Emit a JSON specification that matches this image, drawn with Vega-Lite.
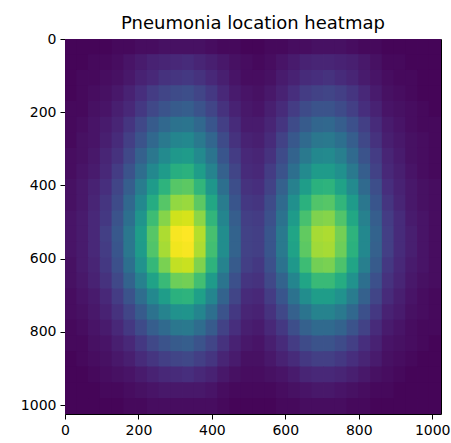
{
"$schema":"https://vega.github.io/schema/vega-lite/v6.json",
"autosize":"none",
"width":376,"height":375,
"padding":{"left":65,"top":39,"right":10,"bottom":29},
"title":{"text":"Pneumonia location heatmap","fontSize":18,"font":"DejaVu Sans","fontWeight":"normal","color":"black","anchor":"middle","baseline":"alphabetic","offset":8,"dy":23},
"config":{"view":{"stroke":null},"axis":{"grid":false,"domainColor":"black","domainWidth":1,"tickColor":"black","tickWidth":1,"tickSize":5,"labelFont":"DejaVu Sans","labelFontSize":14,"labelColor":"black","labelPadding":4,"labelFlush":false,"title":null,"zindex":1,"minExtent":0,"format":"d"}},
"data":{"values":[
{"x":16,"y":21,"v":0.02},{"x":48,"y":21,"v":0.02},{"x":80,"y":21,"v":0.02},{"x":112,"y":21,"v":0.02},{"x":144,"y":21,"v":0.03},{"x":176,"y":21,"v":0.03},{"x":208,"y":21,"v":0.04},{"x":240,"y":21,"v":0.04},{"x":272,"y":21,"v":0.05},{"x":304,"y":21,"v":0.05},{"x":336,"y":21,"v":0.05},{"x":368,"y":21,"v":0.05},{"x":400,"y":21,"v":0.04},{"x":432,"y":21,"v":0.03},{"x":464,"y":21,"v":0.03},{"x":496,"y":21,"v":0.02},{"x":528,"y":21,"v":0.02},{"x":560,"y":21,"v":0.03},{"x":592,"y":21,"v":0.03},{"x":624,"y":21,"v":0.04},{"x":656,"y":21,"v":0.04},{"x":688,"y":21,"v":0.05},{"x":720,"y":21,"v":0.05},{"x":752,"y":21,"v":0.05},{"x":784,"y":21,"v":0.04},{"x":816,"y":21,"v":0.03},{"x":848,"y":21,"v":0.03},{"x":880,"y":21,"v":0.02},{"x":912,"y":21,"v":0.02},{"x":944,"y":21,"v":0.02},{"x":976,"y":21,"v":0.02},{"x":1008,"y":21,"v":0.02},
{"x":16,"y":64,"v":0.02},{"x":48,"y":64,"v":0.02},{"x":80,"y":64,"v":0.03},{"x":112,"y":64,"v":0.03},{"x":144,"y":64,"v":0.04},{"x":176,"y":64,"v":0.06},{"x":208,"y":64,"v":0.08},{"x":240,"y":64,"v":0.1},{"x":272,"y":64,"v":0.11},{"x":304,"y":64,"v":0.12},{"x":336,"y":64,"v":0.13},{"x":368,"y":64,"v":0.11},{"x":400,"y":64,"v":0.09},{"x":432,"y":64,"v":0.07},{"x":464,"y":64,"v":0.05},{"x":496,"y":64,"v":0.04},{"x":528,"y":64,"v":0.03},{"x":560,"y":64,"v":0.04},{"x":592,"y":64,"v":0.06},{"x":624,"y":64,"v":0.08},{"x":656,"y":64,"v":0.1},{"x":688,"y":64,"v":0.11},{"x":720,"y":64,"v":0.11},{"x":752,"y":64,"v":0.1},{"x":784,"y":64,"v":0.09},{"x":816,"y":64,"v":0.07},{"x":848,"y":64,"v":0.05},{"x":880,"y":64,"v":0.03},{"x":912,"y":64,"v":0.03},{"x":944,"y":64,"v":0.02},{"x":976,"y":64,"v":0.02},{"x":1008,"y":64,"v":0.02},
{"x":16,"y":107,"v":0.02},{"x":48,"y":107,"v":0.03},{"x":80,"y":107,"v":0.03},{"x":112,"y":107,"v":0.04},{"x":144,"y":107,"v":0.05},{"x":176,"y":107,"v":0.07},{"x":208,"y":107,"v":0.1},{"x":240,"y":107,"v":0.12},{"x":272,"y":107,"v":0.15},{"x":304,"y":107,"v":0.16},{"x":336,"y":107,"v":0.17},{"x":368,"y":107,"v":0.15},{"x":400,"y":107,"v":0.12},{"x":432,"y":107,"v":0.09},{"x":464,"y":107,"v":0.06},{"x":496,"y":107,"v":0.04},{"x":528,"y":107,"v":0.04},{"x":560,"y":107,"v":0.05},{"x":592,"y":107,"v":0.08},{"x":624,"y":107,"v":0.1},{"x":656,"y":107,"v":0.13},{"x":688,"y":107,"v":0.14},{"x":720,"y":107,"v":0.15},{"x":752,"y":107,"v":0.13},{"x":784,"y":107,"v":0.11},{"x":816,"y":107,"v":0.08},{"x":848,"y":107,"v":0.06},{"x":880,"y":107,"v":0.04},{"x":912,"y":107,"v":0.03},{"x":944,"y":107,"v":0.03},{"x":976,"y":107,"v":0.02},{"x":1008,"y":107,"v":0.02},
{"x":16,"y":149,"v":0.02},{"x":48,"y":149,"v":0.03},{"x":80,"y":149,"v":0.04},{"x":112,"y":149,"v":0.05},{"x":144,"y":149,"v":0.07},{"x":176,"y":149,"v":0.1},{"x":208,"y":149,"v":0.14},{"x":240,"y":149,"v":0.18},{"x":272,"y":149,"v":0.21},{"x":304,"y":149,"v":0.23},{"x":336,"y":149,"v":0.24},{"x":368,"y":149,"v":0.21},{"x":400,"y":149,"v":0.17},{"x":432,"y":149,"v":0.12},{"x":464,"y":149,"v":0.08},{"x":496,"y":149,"v":0.06},{"x":528,"y":149,"v":0.05},{"x":560,"y":149,"v":0.07},{"x":592,"y":149,"v":0.1},{"x":624,"y":149,"v":0.14},{"x":656,"y":149,"v":0.18},{"x":688,"y":149,"v":0.2},{"x":720,"y":149,"v":0.21},{"x":752,"y":149,"v":0.19},{"x":784,"y":149,"v":0.16},{"x":816,"y":149,"v":0.12},{"x":848,"y":149,"v":0.08},{"x":880,"y":149,"v":0.05},{"x":912,"y":149,"v":0.04},{"x":944,"y":149,"v":0.03},{"x":976,"y":149,"v":0.02},{"x":1008,"y":149,"v":0.02},
{"x":16,"y":192,"v":0.03},{"x":48,"y":192,"v":0.03},{"x":80,"y":192,"v":0.05},{"x":112,"y":192,"v":0.06},{"x":144,"y":192,"v":0.09},{"x":176,"y":192,"v":0.12},{"x":208,"y":192,"v":0.17},{"x":240,"y":192,"v":0.22},{"x":272,"y":192,"v":0.26},{"x":304,"y":192,"v":0.29},{"x":336,"y":192,"v":0.3},{"x":368,"y":192,"v":0.26},{"x":400,"y":192,"v":0.21},{"x":432,"y":192,"v":0.15},{"x":464,"y":192,"v":0.1},{"x":496,"y":192,"v":0.07},{"x":528,"y":192,"v":0.06},{"x":560,"y":192,"v":0.09},{"x":592,"y":192,"v":0.13},{"x":624,"y":192,"v":0.18},{"x":656,"y":192,"v":0.23},{"x":688,"y":192,"v":0.26},{"x":720,"y":192,"v":0.26},{"x":752,"y":192,"v":0.23},{"x":784,"y":192,"v":0.19},{"x":816,"y":192,"v":0.14},{"x":848,"y":192,"v":0.1},{"x":880,"y":192,"v":0.06},{"x":912,"y":192,"v":0.05},{"x":944,"y":192,"v":0.04},{"x":976,"y":192,"v":0.03},{"x":1008,"y":192,"v":0.02},
{"x":16,"y":235,"v":0.03},{"x":48,"y":235,"v":0.04},{"x":80,"y":235,"v":0.06},{"x":112,"y":235,"v":0.08},{"x":144,"y":235,"v":0.11},{"x":176,"y":235,"v":0.16},{"x":208,"y":235,"v":0.22},{"x":240,"y":235,"v":0.29},{"x":272,"y":235,"v":0.34},{"x":304,"y":235,"v":0.38},{"x":336,"y":235,"v":0.39},{"x":368,"y":235,"v":0.34},{"x":400,"y":235,"v":0.27},{"x":432,"y":235,"v":0.19},{"x":464,"y":235,"v":0.13},{"x":496,"y":235,"v":0.08},{"x":528,"y":235,"v":0.08},{"x":560,"y":235,"v":0.11},{"x":592,"y":235,"v":0.16},{"x":624,"y":235,"v":0.23},{"x":656,"y":235,"v":0.29},{"x":688,"y":235,"v":0.33},{"x":720,"y":235,"v":0.34},{"x":752,"y":235,"v":0.3},{"x":784,"y":235,"v":0.25},{"x":816,"y":235,"v":0.19},{"x":848,"y":235,"v":0.13},{"x":880,"y":235,"v":0.08},{"x":912,"y":235,"v":0.06},{"x":944,"y":235,"v":0.04},{"x":976,"y":235,"v":0.03},{"x":1008,"y":235,"v":0.03},
{"x":16,"y":277,"v":0.03},{"x":48,"y":277,"v":0.05},{"x":80,"y":277,"v":0.06},{"x":112,"y":277,"v":0.09},{"x":144,"y":277,"v":0.13},{"x":176,"y":277,"v":0.19},{"x":208,"y":277,"v":0.26},{"x":240,"y":277,"v":0.34},{"x":272,"y":277,"v":0.41},{"x":304,"y":277,"v":0.46},{"x":336,"y":277,"v":0.47},{"x":368,"y":277,"v":0.41},{"x":400,"y":277,"v":0.33},{"x":432,"y":277,"v":0.23},{"x":464,"y":277,"v":0.15},{"x":496,"y":277,"v":0.1},{"x":528,"y":277,"v":0.09},{"x":560,"y":277,"v":0.13},{"x":592,"y":277,"v":0.2},{"x":624,"y":277,"v":0.28},{"x":656,"y":277,"v":0.35},{"x":688,"y":277,"v":0.4},{"x":720,"y":277,"v":0.41},{"x":752,"y":277,"v":0.37},{"x":784,"y":277,"v":0.3},{"x":816,"y":277,"v":0.22},{"x":848,"y":277,"v":0.15},{"x":880,"y":277,"v":0.09},{"x":912,"y":277,"v":0.07},{"x":944,"y":277,"v":0.05},{"x":976,"y":277,"v":0.04},{"x":1008,"y":277,"v":0.03},
{"x":16,"y":320,"v":0.04},{"x":48,"y":320,"v":0.05},{"x":80,"y":320,"v":0.07},{"x":112,"y":320,"v":0.11},{"x":144,"y":320,"v":0.15},{"x":176,"y":320,"v":0.22},{"x":208,"y":320,"v":0.31},{"x":240,"y":320,"v":0.4},{"x":272,"y":320,"v":0.48},{"x":304,"y":320,"v":0.54},{"x":336,"y":320,"v":0.55},{"x":368,"y":320,"v":0.48},{"x":400,"y":320,"v":0.39},{"x":432,"y":320,"v":0.27},{"x":464,"y":320,"v":0.18},{"x":496,"y":320,"v":0.12},{"x":528,"y":320,"v":0.11},{"x":560,"y":320,"v":0.15},{"x":592,"y":320,"v":0.23},{"x":624,"y":320,"v":0.32},{"x":656,"y":320,"v":0.41},{"x":688,"y":320,"v":0.47},{"x":720,"y":320,"v":0.48},{"x":752,"y":320,"v":0.43},{"x":784,"y":320,"v":0.35},{"x":816,"y":320,"v":0.26},{"x":848,"y":320,"v":0.18},{"x":880,"y":320,"v":0.11},{"x":912,"y":320,"v":0.08},{"x":944,"y":320,"v":0.05},{"x":976,"y":320,"v":0.04},{"x":1008,"y":320,"v":0.03},
{"x":16,"y":363,"v":0.04},{"x":48,"y":363,"v":0.06},{"x":80,"y":363,"v":0.08},{"x":112,"y":363,"v":0.12},{"x":144,"y":363,"v":0.18},{"x":176,"y":363,"v":0.26},{"x":208,"y":363,"v":0.36},{"x":240,"y":363,"v":0.47},{"x":272,"y":363,"v":0.55},{"x":304,"y":363,"v":0.63},{"x":336,"y":363,"v":0.64},{"x":368,"y":363,"v":0.56},{"x":400,"y":363,"v":0.45},{"x":432,"y":363,"v":0.31},{"x":464,"y":363,"v":0.21},{"x":496,"y":363,"v":0.13},{"x":528,"y":363,"v":0.12},{"x":560,"y":363,"v":0.18},{"x":592,"y":363,"v":0.26},{"x":624,"y":363,"v":0.37},{"x":656,"y":363,"v":0.48},{"x":688,"y":363,"v":0.55},{"x":720,"y":363,"v":0.55},{"x":752,"y":363,"v":0.5},{"x":784,"y":363,"v":0.41},{"x":816,"y":363,"v":0.3},{"x":848,"y":363,"v":0.2},{"x":880,"y":363,"v":0.12},{"x":912,"y":363,"v":0.09},{"x":944,"y":363,"v":0.06},{"x":976,"y":363,"v":0.04},{"x":1008,"y":363,"v":0.03},
{"x":16,"y":405,"v":0.05},{"x":48,"y":405,"v":0.07},{"x":80,"y":405,"v":0.1},{"x":112,"y":405,"v":0.14},{"x":144,"y":405,"v":0.21},{"x":176,"y":405,"v":0.3},{"x":208,"y":405,"v":0.42},{"x":240,"y":405,"v":0.55},{"x":272,"y":405,"v":0.65},{"x":304,"y":405,"v":0.74},{"x":336,"y":405,"v":0.75},{"x":368,"y":405,"v":0.66},{"x":400,"y":405,"v":0.53},{"x":432,"y":405,"v":0.37},{"x":464,"y":405,"v":0.24},{"x":496,"y":405,"v":0.15},{"x":528,"y":405,"v":0.14},{"x":560,"y":405,"v":0.2},{"x":592,"y":405,"v":0.31},{"x":624,"y":405,"v":0.44},{"x":656,"y":405,"v":0.56},{"x":688,"y":405,"v":0.64},{"x":720,"y":405,"v":0.65},{"x":752,"y":405,"v":0.58},{"x":784,"y":405,"v":0.48},{"x":816,"y":405,"v":0.35},{"x":848,"y":405,"v":0.24},{"x":880,"y":405,"v":0.14},{"x":912,"y":405,"v":0.1},{"x":944,"y":405,"v":0.07},{"x":976,"y":405,"v":0.05},{"x":1008,"y":405,"v":0.04},
{"x":16,"y":448,"v":0.05},{"x":48,"y":448,"v":0.07},{"x":80,"y":448,"v":0.11},{"x":112,"y":448,"v":0.16},{"x":144,"y":448,"v":0.23},{"x":176,"y":448,"v":0.34},{"x":208,"y":448,"v":0.47},{"x":240,"y":448,"v":0.62},{"x":272,"y":448,"v":0.74},{"x":304,"y":448,"v":0.84},{"x":336,"y":448,"v":0.85},{"x":368,"y":448,"v":0.75},{"x":400,"y":448,"v":0.6},{"x":432,"y":448,"v":0.42},{"x":464,"y":448,"v":0.27},{"x":496,"y":448,"v":0.17},{"x":528,"y":448,"v":0.16},{"x":560,"y":448,"v":0.23},{"x":592,"y":448,"v":0.35},{"x":624,"y":448,"v":0.5},{"x":656,"y":448,"v":0.64},{"x":688,"y":448,"v":0.73},{"x":720,"y":448,"v":0.74},{"x":752,"y":448,"v":0.66},{"x":784,"y":448,"v":0.55},{"x":816,"y":448,"v":0.4},{"x":848,"y":448,"v":0.27},{"x":880,"y":448,"v":0.16},{"x":912,"y":448,"v":0.11},{"x":944,"y":448,"v":0.07},{"x":976,"y":448,"v":0.05},{"x":1008,"y":448,"v":0.04},
{"x":16,"y":491,"v":0.06},{"x":48,"y":491,"v":0.08},{"x":80,"y":491,"v":0.12},{"x":112,"y":491,"v":0.17},{"x":144,"y":491,"v":0.26},{"x":176,"y":491,"v":0.37},{"x":208,"y":491,"v":0.52},{"x":240,"y":491,"v":0.69},{"x":272,"y":491,"v":0.82},{"x":304,"y":491,"v":0.93},{"x":336,"y":491,"v":0.94},{"x":368,"y":491,"v":0.83},{"x":400,"y":491,"v":0.66},{"x":432,"y":491,"v":0.46},{"x":464,"y":491,"v":0.3},{"x":496,"y":491,"v":0.19},{"x":528,"y":491,"v":0.18},{"x":560,"y":491,"v":0.25},{"x":592,"y":491,"v":0.38},{"x":624,"y":491,"v":0.55},{"x":656,"y":491,"v":0.71},{"x":688,"y":491,"v":0.81},{"x":720,"y":491,"v":0.82},{"x":752,"y":491,"v":0.73},{"x":784,"y":491,"v":0.6},{"x":816,"y":491,"v":0.44},{"x":848,"y":491,"v":0.3},{"x":880,"y":491,"v":0.18},{"x":912,"y":491,"v":0.13},{"x":944,"y":491,"v":0.08},{"x":976,"y":491,"v":0.06},{"x":1008,"y":491,"v":0.04},
{"x":16,"y":533,"v":0.06},{"x":48,"y":533,"v":0.08},{"x":80,"y":533,"v":0.12},{"x":112,"y":533,"v":0.19},{"x":144,"y":533,"v":0.28},{"x":176,"y":533,"v":0.4},{"x":208,"y":533,"v":0.56},{"x":240,"y":533,"v":0.74},{"x":272,"y":533,"v":0.88},{"x":304,"y":533,"v":0.99},{"x":336,"y":533,"v":1.0},{"x":368,"y":533,"v":0.89},{"x":400,"y":533,"v":0.71},{"x":432,"y":533,"v":0.49},{"x":464,"y":533,"v":0.32},{"x":496,"y":533,"v":0.2},{"x":528,"y":533,"v":0.19},{"x":560,"y":533,"v":0.27},{"x":592,"y":533,"v":0.41},{"x":624,"y":533,"v":0.59},{"x":656,"y":533,"v":0.76},{"x":688,"y":533,"v":0.87},{"x":720,"y":533,"v":0.88},{"x":752,"y":533,"v":0.79},{"x":784,"y":533,"v":0.65},{"x":816,"y":533,"v":0.47},{"x":848,"y":533,"v":0.32},{"x":880,"y":533,"v":0.19},{"x":912,"y":533,"v":0.13},{"x":944,"y":533,"v":0.09},{"x":976,"y":533,"v":0.06},{"x":1008,"y":533,"v":0.04},
{"x":16,"y":576,"v":0.06},{"x":48,"y":576,"v":0.08},{"x":80,"y":576,"v":0.12},{"x":112,"y":576,"v":0.18},{"x":144,"y":576,"v":0.27},{"x":176,"y":576,"v":0.4},{"x":208,"y":576,"v":0.55},{"x":240,"y":576,"v":0.73},{"x":272,"y":576,"v":0.87},{"x":304,"y":576,"v":0.98},{"x":336,"y":576,"v":0.99},{"x":368,"y":576,"v":0.88},{"x":400,"y":576,"v":0.7},{"x":432,"y":576,"v":0.49},{"x":464,"y":576,"v":0.32},{"x":496,"y":576,"v":0.2},{"x":528,"y":576,"v":0.19},{"x":560,"y":576,"v":0.27},{"x":592,"y":576,"v":0.41},{"x":624,"y":576,"v":0.58},{"x":656,"y":576,"v":0.75},{"x":688,"y":576,"v":0.86},{"x":720,"y":576,"v":0.87},{"x":752,"y":576,"v":0.78},{"x":784,"y":576,"v":0.64},{"x":816,"y":576,"v":0.47},{"x":848,"y":576,"v":0.31},{"x":880,"y":576,"v":0.19},{"x":912,"y":576,"v":0.13},{"x":944,"y":576,"v":0.09},{"x":976,"y":576,"v":0.06},{"x":1008,"y":576,"v":0.04},
{"x":16,"y":619,"v":0.05},{"x":48,"y":619,"v":0.08},{"x":80,"y":619,"v":0.11},{"x":112,"y":619,"v":0.17},{"x":144,"y":619,"v":0.25},{"x":176,"y":619,"v":0.37},{"x":208,"y":619,"v":0.51},{"x":240,"y":619,"v":0.67},{"x":272,"y":619,"v":0.8},{"x":304,"y":619,"v":0.91},{"x":336,"y":619,"v":0.92},{"x":368,"y":619,"v":0.81},{"x":400,"y":619,"v":0.65},{"x":432,"y":619,"v":0.45},{"x":464,"y":619,"v":0.29},{"x":496,"y":619,"v":0.19},{"x":528,"y":619,"v":0.17},{"x":560,"y":619,"v":0.25},{"x":592,"y":619,"v":0.38},{"x":624,"y":619,"v":0.54},{"x":656,"y":619,"v":0.69},{"x":688,"y":619,"v":0.79},{"x":720,"y":619,"v":0.8},{"x":752,"y":619,"v":0.72},{"x":784,"y":619,"v":0.59},{"x":816,"y":619,"v":0.43},{"x":848,"y":619,"v":0.29},{"x":880,"y":619,"v":0.17},{"x":912,"y":619,"v":0.12},{"x":944,"y":619,"v":0.08},{"x":976,"y":619,"v":0.06},{"x":1008,"y":619,"v":0.04},
{"x":16,"y":661,"v":0.05},{"x":48,"y":661,"v":0.07},{"x":80,"y":661,"v":0.1},{"x":112,"y":661,"v":0.15},{"x":144,"y":661,"v":0.22},{"x":176,"y":661,"v":0.32},{"x":208,"y":661,"v":0.44},{"x":240,"y":661,"v":0.58},{"x":272,"y":661,"v":0.68},{"x":304,"y":661,"v":0.78},{"x":336,"y":661,"v":0.79},{"x":368,"y":661,"v":0.7},{"x":400,"y":661,"v":0.55},{"x":432,"y":661,"v":0.39},{"x":464,"y":661,"v":0.25},{"x":496,"y":661,"v":0.16},{"x":528,"y":661,"v":0.15},{"x":560,"y":661,"v":0.22},{"x":592,"y":661,"v":0.32},{"x":624,"y":661,"v":0.46},{"x":656,"y":661,"v":0.59},{"x":688,"y":661,"v":0.68},{"x":720,"y":661,"v":0.68},{"x":752,"y":661,"v":0.62},{"x":784,"y":661,"v":0.51},{"x":816,"y":661,"v":0.37},{"x":848,"y":661,"v":0.25},{"x":880,"y":661,"v":0.15},{"x":912,"y":661,"v":0.11},{"x":944,"y":661,"v":0.07},{"x":976,"y":661,"v":0.05},{"x":1008,"y":661,"v":0.04},
{"x":16,"y":704,"v":0.04},{"x":48,"y":704,"v":0.06},{"x":80,"y":704,"v":0.08},{"x":112,"y":704,"v":0.12},{"x":144,"y":704,"v":0.18},{"x":176,"y":704,"v":0.26},{"x":208,"y":704,"v":0.36},{"x":240,"y":704,"v":0.47},{"x":272,"y":704,"v":0.56},{"x":304,"y":704,"v":0.64},{"x":336,"y":704,"v":0.65},{"x":368,"y":704,"v":0.57},{"x":400,"y":704,"v":0.46},{"x":432,"y":704,"v":0.32},{"x":464,"y":704,"v":0.21},{"x":496,"y":704,"v":0.13},{"x":528,"y":704,"v":0.12},{"x":560,"y":704,"v":0.18},{"x":592,"y":704,"v":0.27},{"x":624,"y":704,"v":0.38},{"x":656,"y":704,"v":0.49},{"x":688,"y":704,"v":0.56},{"x":720,"y":704,"v":0.56},{"x":752,"y":704,"v":0.51},{"x":784,"y":704,"v":0.42},{"x":816,"y":704,"v":0.31},{"x":848,"y":704,"v":0.21},{"x":880,"y":704,"v":0.13},{"x":912,"y":704,"v":0.09},{"x":944,"y":704,"v":0.06},{"x":976,"y":704,"v":0.04},{"x":1008,"y":704,"v":0.03},
{"x":16,"y":747,"v":0.04},{"x":48,"y":747,"v":0.05},{"x":80,"y":747,"v":0.07},{"x":112,"y":747,"v":0.1},{"x":144,"y":747,"v":0.15},{"x":176,"y":747,"v":0.21},{"x":208,"y":747,"v":0.29},{"x":240,"y":747,"v":0.38},{"x":272,"y":747,"v":0.45},{"x":304,"y":747,"v":0.51},{"x":336,"y":747,"v":0.52},{"x":368,"y":747,"v":0.46},{"x":400,"y":747,"v":0.37},{"x":432,"y":747,"v":0.26},{"x":464,"y":747,"v":0.17},{"x":496,"y":747,"v":0.11},{"x":528,"y":747,"v":0.1},{"x":560,"y":747,"v":0.15},{"x":592,"y":747,"v":0.22},{"x":624,"y":747,"v":0.31},{"x":656,"y":747,"v":0.39},{"x":688,"y":747,"v":0.45},{"x":720,"y":747,"v":0.45},{"x":752,"y":747,"v":0.41},{"x":784,"y":747,"v":0.34},{"x":816,"y":747,"v":0.25},{"x":848,"y":747,"v":0.17},{"x":880,"y":747,"v":0.1},{"x":912,"y":747,"v":0.08},{"x":944,"y":747,"v":0.05},{"x":976,"y":747,"v":0.04},{"x":1008,"y":747,"v":0.03},
{"x":16,"y":789,"v":0.03},{"x":48,"y":789,"v":0.04},{"x":80,"y":789,"v":0.06},{"x":112,"y":789,"v":0.08},{"x":144,"y":789,"v":0.12},{"x":176,"y":789,"v":0.17},{"x":208,"y":789,"v":0.23},{"x":240,"y":789,"v":0.3},{"x":272,"y":789,"v":0.35},{"x":304,"y":789,"v":0.4},{"x":336,"y":789,"v":0.41},{"x":368,"y":789,"v":0.36},{"x":400,"y":789,"v":0.29},{"x":432,"y":789,"v":0.2},{"x":464,"y":789,"v":0.14},{"x":496,"y":789,"v":0.09},{"x":528,"y":789,"v":0.08},{"x":560,"y":789,"v":0.12},{"x":592,"y":789,"v":0.17},{"x":624,"y":789,"v":0.24},{"x":656,"y":789,"v":0.31},{"x":688,"y":789,"v":0.35},{"x":720,"y":789,"v":0.35},{"x":752,"y":789,"v":0.32},{"x":784,"y":789,"v":0.26},{"x":816,"y":789,"v":0.2},{"x":848,"y":789,"v":0.13},{"x":880,"y":789,"v":0.08},{"x":912,"y":789,"v":0.06},{"x":944,"y":789,"v":0.04},{"x":976,"y":789,"v":0.03},{"x":1008,"y":789,"v":0.03},
{"x":16,"y":832,"v":0.03},{"x":48,"y":832,"v":0.03},{"x":80,"y":832,"v":0.05},{"x":112,"y":832,"v":0.06},{"x":144,"y":832,"v":0.09},{"x":176,"y":832,"v":0.12},{"x":208,"y":832,"v":0.17},{"x":240,"y":832,"v":0.22},{"x":272,"y":832,"v":0.26},{"x":304,"y":832,"v":0.29},{"x":336,"y":832,"v":0.3},{"x":368,"y":832,"v":0.26},{"x":400,"y":832,"v":0.21},{"x":432,"y":832,"v":0.15},{"x":464,"y":832,"v":0.1},{"x":496,"y":832,"v":0.07},{"x":528,"y":832,"v":0.06},{"x":560,"y":832,"v":0.09},{"x":592,"y":832,"v":0.13},{"x":624,"y":832,"v":0.18},{"x":656,"y":832,"v":0.23},{"x":688,"y":832,"v":0.26},{"x":720,"y":832,"v":0.26},{"x":752,"y":832,"v":0.23},{"x":784,"y":832,"v":0.19},{"x":816,"y":832,"v":0.14},{"x":848,"y":832,"v":0.1},{"x":880,"y":832,"v":0.06},{"x":912,"y":832,"v":0.05},{"x":944,"y":832,"v":0.04},{"x":976,"y":832,"v":0.03},{"x":1008,"y":832,"v":0.02},
{"x":16,"y":875,"v":0.02},{"x":48,"y":875,"v":0.03},{"x":80,"y":875,"v":0.04},{"x":112,"y":875,"v":0.05},{"x":144,"y":875,"v":0.07},{"x":176,"y":875,"v":0.09},{"x":208,"y":875,"v":0.13},{"x":240,"y":875,"v":0.16},{"x":272,"y":875,"v":0.19},{"x":304,"y":875,"v":0.21},{"x":336,"y":875,"v":0.22},{"x":368,"y":875,"v":0.19},{"x":400,"y":875,"v":0.16},{"x":432,"y":875,"v":0.11},{"x":464,"y":875,"v":0.08},{"x":496,"y":875,"v":0.05},{"x":528,"y":875,"v":0.05},{"x":560,"y":875,"v":0.07},{"x":592,"y":875,"v":0.1},{"x":624,"y":875,"v":0.13},{"x":656,"y":875,"v":0.17},{"x":688,"y":875,"v":0.19},{"x":720,"y":875,"v":0.19},{"x":752,"y":875,"v":0.17},{"x":784,"y":875,"v":0.14},{"x":816,"y":875,"v":0.11},{"x":848,"y":875,"v":0.08},{"x":880,"y":875,"v":0.05},{"x":912,"y":875,"v":0.04},{"x":944,"y":875,"v":0.03},{"x":976,"y":875,"v":0.02},{"x":1008,"y":875,"v":0.02},
{"x":16,"y":917,"v":0.02},{"x":48,"y":917,"v":0.02},{"x":80,"y":917,"v":0.03},{"x":112,"y":917,"v":0.04},{"x":144,"y":917,"v":0.05},{"x":176,"y":917,"v":0.06},{"x":208,"y":917,"v":0.08},{"x":240,"y":917,"v":0.1},{"x":272,"y":917,"v":0.12},{"x":304,"y":917,"v":0.13},{"x":336,"y":917,"v":0.14},{"x":368,"y":917,"v":0.12},{"x":400,"y":917,"v":0.1},{"x":432,"y":917,"v":0.07},{"x":464,"y":917,"v":0.05},{"x":496,"y":917,"v":0.04},{"x":528,"y":917,"v":0.04},{"x":560,"y":917,"v":0.05},{"x":592,"y":917,"v":0.06},{"x":624,"y":917,"v":0.08},{"x":656,"y":917,"v":0.11},{"x":688,"y":917,"v":0.12},{"x":720,"y":917,"v":0.12},{"x":752,"y":917,"v":0.11},{"x":784,"y":917,"v":0.09},{"x":816,"y":917,"v":0.07},{"x":848,"y":917,"v":0.05},{"x":880,"y":917,"v":0.04},{"x":912,"y":917,"v":0.03},{"x":944,"y":917,"v":0.02},{"x":976,"y":917,"v":0.02},{"x":1008,"y":917,"v":0.02},
{"x":16,"y":960,"v":0.02},{"x":48,"y":960,"v":0.02},{"x":80,"y":960,"v":0.02},{"x":112,"y":960,"v":0.03},{"x":144,"y":960,"v":0.03},{"x":176,"y":960,"v":0.04},{"x":208,"y":960,"v":0.05},{"x":240,"y":960,"v":0.06},{"x":272,"y":960,"v":0.07},{"x":304,"y":960,"v":0.07},{"x":336,"y":960,"v":0.07},{"x":368,"y":960,"v":0.07},{"x":400,"y":960,"v":0.06},{"x":432,"y":960,"v":0.04},{"x":464,"y":960,"v":0.03},{"x":496,"y":960,"v":0.03},{"x":528,"y":960,"v":0.03},{"x":560,"y":960,"v":0.03},{"x":592,"y":960,"v":0.04},{"x":624,"y":960,"v":0.05},{"x":656,"y":960,"v":0.06},{"x":688,"y":960,"v":0.07},{"x":720,"y":960,"v":0.07},{"x":752,"y":960,"v":0.06},{"x":784,"y":960,"v":0.05},{"x":816,"y":960,"v":0.04},{"x":848,"y":960,"v":0.03},{"x":880,"y":960,"v":0.03},{"x":912,"y":960,"v":0.02},{"x":944,"y":960,"v":0.02},{"x":976,"y":960,"v":0.02},{"x":1008,"y":960,"v":0.02},
{"x":16,"y":1003,"v":0.02},{"x":48,"y":1003,"v":0.02},{"x":80,"y":1003,"v":0.02},{"x":112,"y":1003,"v":0.02},{"x":144,"y":1003,"v":0.02},{"x":176,"y":1003,"v":0.03},{"x":208,"y":1003,"v":0.03},{"x":240,"y":1003,"v":0.04},{"x":272,"y":1003,"v":0.04},{"x":304,"y":1003,"v":0.04},{"x":336,"y":1003,"v":0.04},{"x":368,"y":1003,"v":0.04},{"x":400,"y":1003,"v":0.04},{"x":432,"y":1003,"v":0.03},{"x":464,"y":1003,"v":0.02},{"x":496,"y":1003,"v":0.02},{"x":528,"y":1003,"v":0.02},{"x":560,"y":1003,"v":0.02},{"x":592,"y":1003,"v":0.03},{"x":624,"y":1003,"v":0.03},{"x":656,"y":1003,"v":0.04},{"x":688,"y":1003,"v":0.04},{"x":720,"y":1003,"v":0.04},{"x":752,"y":1003,"v":0.04},{"x":784,"y":1003,"v":0.03},{"x":816,"y":1003,"v":0.03},{"x":848,"y":1003,"v":0.02},{"x":880,"y":1003,"v":0.02},{"x":912,"y":1003,"v":0.02},{"x":944,"y":1003,"v":0.02},{"x":976,"y":1003,"v":0.02},{"x":1008,"y":1003,"v":0.02}
]},
"layer":[
{"mark":{"type":"rect","width":12.6,"height":16.6,"clip":true},
 "encoding":{
  "x":{"field":"x","type":"quantitative","scale":{"domain":[0,1024],"nice":false,"zero":false},"axis":{"orient":"bottom","values":[0,200,400,600,800,1000]}},
  "y":{"field":"y","type":"quantitative","scale":{"domain":[0,1024],"nice":false,"zero":false,"reverse":true},"axis":{"orient":"left","values":[0,200,400,600,800,1000]}},
  "color":{"field":"v","type":"quantitative","scale":{"scheme":"viridis","domain":[0.01,1]},"legend":null}
 }},
{"data":{"values":[{"x":0,"y":0},{"x":1024,"y":1024}]},
 "mark":{"type":"point","opacity":0},
 "encoding":{
  "x":{"field":"x","type":"quantitative","scale":{"domain":[0,1024],"nice":false,"zero":false},"axis":{"orient":"top","labels":false,"ticks":false}},
  "y":{"field":"y","type":"quantitative","scale":{"domain":[0,1024],"nice":false,"zero":false,"reverse":true},"axis":{"orient":"right","labels":false,"ticks":false}}
 }}
],
"resolve":{"axis":{"x":"independent","y":"independent"}}
}
